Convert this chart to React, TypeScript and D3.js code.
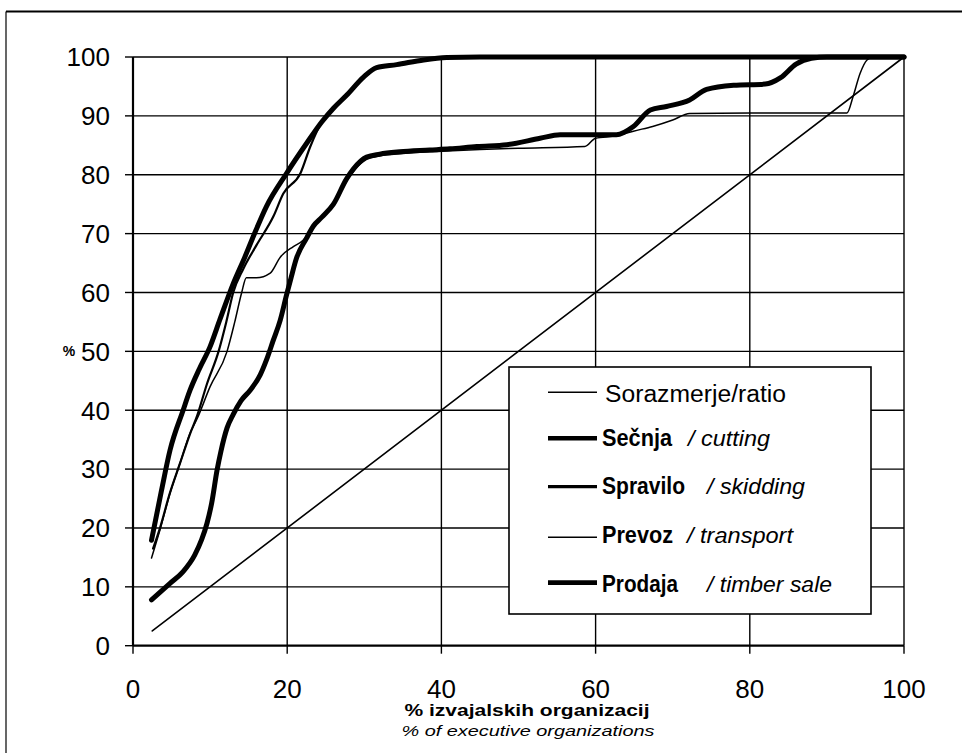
import React from 'react';
import * as d3 from 'd3';

const xTickValues = [0, 20, 40, 60, 80, 100];
const yTickValues = [0, 10, 20, 30, 40, 50, 60, 70, 80, 90, 100];

const ratio: [number, number][] = [[2.5, 2.5], [100, 100]];

const secnja: [number, number][] = [
  [2.4, 17.9], [3.7, 26.4], [4.8, 33.2], [6.5, 40], [7.4, 43.4], [8.6, 47], [10, 50.8], [11.3, 55.5],
  [13, 61.5], [14.5, 66], [15.6, 69.5], [17.3, 74.6], [19.9, 80.2], [22.5, 85.3], [24.5, 89], [26, 91.3],
  [27.7, 93.5], [29.9, 96.6], [31.6, 98.2], [34.2, 98.7], [37.7, 99.5], [40.7, 99.9], [45, 100], [100, 100],
];

const spravilo: [number, number][] = [
  [2.6, 16.5], [3.5, 20], [4.8, 26], [6.1, 31], [7.4, 36], [8.3, 39], [9.6, 44.5], [11.1, 50], [12.1, 55],
  [13, 60], [14.3, 64], [16, 68], [18.2, 72.9], [19.5, 76.8], [21.7, 80.2], [23, 84.8], [24.5, 89], [26, 91.3],
  [27.7, 93.5], [29.9, 96.6], [31.6, 98.2], [34.2, 98.7], [37.7, 99.5], [40.7, 99.9], [45, 100], [100, 100],
];

const prevoz: [number, number][] = [
  [2.4, 14.9], [3.5, 19.7], [4.8, 25.9], [6.1, 31], [7.4, 36.1], [8.3, 38.5], [10, 44], [12.2, 50], [13.2, 55],
  [14.1, 60], [14.7, 62.5], [16, 62.5], [17.8, 63.3], [19.1, 66], [20.8, 67.8], [22.1, 68.9], [23.4, 71.3],
  [24.5, 72.8], [26, 74.8], [27.7, 79], [28.6, 80.6], [30.3, 82.6], [32, 83.2], [35, 83.6], [40, 84], [45, 84.3],
  [50, 84.5], [58.6, 84.8], [60, 86.2], [62.7, 86.6], [64.9, 87.4], [67.4, 88.2], [70, 89.3], [72.2, 90.4],
  [80, 90.5], [92.6, 90.5], [93.4, 93.3], [94.3, 97.2], [95.2, 99.5], [96, 100], [100, 100],
];

const prodaja: [number, number][] = [
  [2.4, 7.8], [4.8, 10.6], [6.5, 12.6], [8, 15.4], [8.9, 18], [9.6, 20.8], [10.2, 24.2], [10.9, 29.8], [11.4, 33],
  [12.2, 37], [13, 39.3], [14, 41.6], [15.2, 43.4], [16.5, 46], [17.3, 48.5], [18.2, 51.9], [19.1, 55.3],
  [19.9, 59.5], [20.5, 62.5], [21.2, 65.8], [22.5, 69.2], [23.4, 71.3], [24.5, 72.8], [26, 75], [27.7, 79.3],
  [28.6, 81], [30.3, 83], [32, 83.5], [34.6, 83.9], [38.5, 84.2], [41.1, 84.4], [44.6, 84.8], [48.5, 85.1],
  [52.8, 86.2], [55.4, 86.8], [62.7, 86.8], [64.9, 88.2], [67.1, 91], [69.2, 91.6], [72.2, 92.7], [74.4, 94.5],
  [77.9, 95.2], [82, 95.4], [84, 96.5], [86, 98.8], [88, 99.8], [90, 100], [100, 100],
];

const legendNames = ['Sorazmerje/ratio', 'Sečnja', 'Spravilo', 'Prevoz', 'Prodaja'];
const legendEnglish = ['', '/ cutting', '/ skidding', '/ transport', '/ timber sale'];

const FONT = "'Liberation Sans', Arial, Helvetica, sans-serif";

export default function App() {
  const W = 962;
  const H = 753;
  const x = d3.scaleLinear().domain([0, 100]).range([133, 904]);
  const y = d3.scaleLinear().domain([0, 100]).range([645.7, 57]);
  const line = d3
    .line<[number, number]>()
    .x((d) => x(d[0]))
    .y((d) => y(d[1]))
    .curve(d3.curveMonotoneX);

  const series = [
    { data: ratio, w: 1.6 },
    { data: prodaja, w: 5 },
    { data: prevoz, w: 1.5 },
    { data: spravilo, w: 2.2 },
    { data: secnja, w: 5 },
  ];

  const legendStroke = [1.6, 4.5, 3.2, 1.6, 4.8];
  const legendLineY = [392.3, 438.3, 486.7, 537.3, 582.7];
  const legendTextY = [402, 446, 494, 543, 592];
  const legendEnX = [0, 688, 707, 687, 707];
  const legendNameLen = [181, 70, 83, 71, 76];
  const legendEnLen = [0, 82, 98, 106, 125];

  return (
    <svg
      width={W}
      height={H}
      viewBox={`0 0 ${W} ${H}`}
      style={{ position: 'absolute', left: 0, top: 0, background: '#fff' }}
      fontFamily={FONT}
    >
      <rect x={0} y={0} width={W} height={H} fill="#fff" />
      {/* outer frame */}
      <line x1={6} y1={11.5} x2={W} y2={11.5} stroke="#000" strokeWidth={2} />
      <line x1={6} y1={11.5} x2={6} y2={H} stroke="#000" strokeWidth={1.2} />

      {/* grid */}
      {yTickValues.map((v) => (
        <line key={'gy' + v} x1={x(0)} x2={x(100)} y1={y(v)} y2={y(v)} stroke="#000" strokeWidth={v === 0 ? 2.2 : 1.4} />
      ))}
      {xTickValues.map((v) => (
        <line key={'gx' + v} x1={x(v)} x2={x(v)} y1={y(0)} y2={y(100)} stroke="#000" strokeWidth={v === 0 ? 2.2 : 1.4} />
      ))}
      {/* ticks */}
      {yTickValues.map((v) => (
        <line key={'ty' + v} x1={x(0) - 8} x2={x(0)} y1={y(v)} y2={y(v)} stroke="#000" strokeWidth={1.4} />
      ))}
      {xTickValues.map((v) => (
        <line key={'tx' + v} x1={x(v)} x2={x(v)} y1={y(0)} y2={y(0) + 8} stroke="#000" strokeWidth={1.4} />
      ))}
      {/* tick labels */}
      {yTickValues.map((v) => (
        <text key={'ly' + v} x={110} y={y(v)} dy="0.36em" textAnchor="end" fontSize={26} fill="#000">
          {v}
        </text>
      ))}
      {xTickValues.map((v) => (
        <text key={'lx' + v} x={x(v)} y={698} textAnchor="middle" fontSize={26} fill="#000">
          {v}
        </text>
      ))}
      <text x={69} y={(y(0) + y(100)) / 2} dy="0.36em" textAnchor="middle" fontSize={14} fontWeight="bold" fill="#000">
        %
      </text>
      <text x={527} y={716} textAnchor="middle" fontSize={16} fontWeight="bold" fill="#000" textLength={245} lengthAdjust="spacingAndGlyphs">
        % izvajalskih organizacij
      </text>
      <text x={528} y={736} textAnchor="middle" fontSize={14} fontStyle="italic" fill="#000" textLength={253} lengthAdjust="spacingAndGlyphs">
        % of executive organizations
      </text>

      {/* series */}
      {series.map((s, i) => (
        <path key={'s' + i} d={line(s.data) || ''} fill="none" stroke="#000" strokeWidth={s.w} strokeLinejoin="round" strokeLinecap="round" />
      ))}

      {/* legend */}
      <rect x={509} y={367} width={362} height={247} fill="#fff" stroke="#000" strokeWidth={1.6} />
      {legendNames.map((n, i) => (
        <g key={'lg' + i}>
          <line x1={548} x2={597} y1={legendLineY[i]} y2={legendLineY[i]} stroke="#000" strokeWidth={legendStroke[i]} />
          <text
            x={i === 0 ? 605 : 602}
            y={legendTextY[i]}
            fontSize={23}
            fontWeight={i === 0 ? 'normal' : 'bold'}
            fill="#000"
            textLength={legendNameLen[i]}
            lengthAdjust="spacingAndGlyphs"
          >
            {n}
          </text>
          {i > 0 && (
            <text
              x={legendEnX[i]}
              y={legendTextY[i]}
              fontSize={22}
              fontStyle="italic"
              fill="#000"
              textLength={legendEnLen[i]}
              lengthAdjust="spacingAndGlyphs"
            >
              {legendEnglish[i]}
            </text>
          )}
        </g>
      ))}
    </svg>
  );
}
